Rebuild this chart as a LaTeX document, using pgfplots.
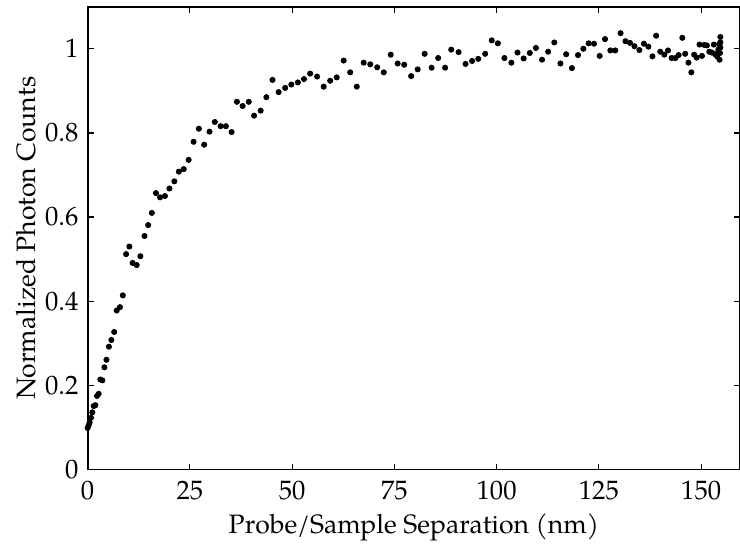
\documentclass[border=0pt]{standalone}
\usepackage{fontspec}
\setmainfont{TeX Gyre Pagella}
\usepackage{pgfplots}
\pgfplotsset{compat=1.18}
\begin{document}
\fontsize{13.3}{16}\selectfont
\begin{tikzpicture}
\begin{axis}[
  scale only axis, width=326.4pt, height=231.6pt,
  xmin=0, xmax=159.5, ymin=0, ymax=1.1,
  xtick={0,25,50,75,100,125,150},
  ytick={0,0.2,0.4,0.6,0.8,1},
  yticklabels={0,0.2,0.4,0.6,0.8,1},
  /pgf/number format/assume math mode=true,
  tick align=inside, major tick length=3pt,
  axis line style={line width=0.9pt},
  every tick/.style={black, line width=0.6pt},
  xlabel={Probe/Sample Separation (nm)},
  ylabel={Normalized Photon Counts},
  xlabel style={yshift=2pt},
  ylabel style={yshift=-4.5pt},
  xticklabel style={yshift=-1pt},
]
\addplot[only marks, mark=*, mark size=1.3pt, black] coordinates {
(0,0.099)(0.25,0.105)(0.49,0.112)(0.82,0.123)(1.15,0.136)(1.48,0.151)(1.89,0.153)
(2.3,0.175)(2.7,0.180)(3.1,0.214)(3.6,0.212)(4.1,0.243)(4.6,0.261)(5.2,0.292)
(5.8,0.308)(6.5,0.327)(7.1,0.378)(7.9,0.386)(8.6,0.414)(9.4,0.512)(10.2,0.530)
(11.0,0.491)(12.0,0.486)(12.9,0.507)(13.9,0.555)(14.8,0.581)(15.7,0.610)(16.7,0.657)
(17.7,0.647)(18.9,0.650)(20.0,0.668)(21.2,0.685)(22.3,0.708)(23.5,0.714)(24.7,0.736)
(25.9,0.779)(27.2,0.810)(28.5,0.772)(29.8,0.803)(31.1,0.826)(32.5,0.816)(33.8,0.816)
(35.2,0.802)(36.5,0.874)(37.9,0.864)(39.4,0.874)(40.7,0.841)(42.3,0.853)(43.7,0.885)
(45.2,0.926)(46.7,0.897)(48.3,0.907)(49.8,0.915)(51.4,0.920)(52.9,0.928)(54.4,0.941)
(56.1,0.934)(57.7,0.910)(59.3,0.924)(60.9,0.932)(62.6,0.972)(64.2,0.944)(65.8,0.910)
(67.5,0.967)(69.1,0.963)(70.8,0.956)(72.4,0.944)(74.1,0.986)(75.8,0.965)(77.4,0.962)
(79.1,0.935)(80.7,0.951)(82.4,0.988)(84.1,0.955)(85.7,0.978)(87.4,0.955)(88.9,0.998)
(90.7,0.992)(92.4,0.964)(94.0,0.971)(95.5,0.976)(97.2,0.988)(98.8,1.020)(100.3,1.013)
(101.9,0.978)(103.6,0.967)(105.1,0.991)(106.6,0.977)(108.1,0.990)(109.6,1.002)(111.1,0.974)
(112.6,0.993)(114.1,1.015)(115.6,0.965)(117.0,0.987)(118.4,0.954)(119.9,0.985)(121.2,1.000)
(122.5,1.013)(123.8,1.012)(125.2,0.983)(126.5,1.023)(127.8,0.996)(129.0,0.996)(130.3,1.037)
(131.5,1.018)(132.6,1.014)(133.7,1.006)(134.9,0.997)(136.0,1.012)(137.1,1.005)(138.1,0.982)
(139.0,1.031)(140.0,0.993)(141.0,0.986)(141.9,0.996)(142.8,0.978)(143.7,0.978)(144.5,0.985)
(145.4,1.026)(146.1,0.988)(146.9,0.967)(147.6,0.944)(148.3,0.986)(148.9,0.979)(149.6,1.010)
(150.2,0.983)(150.8,1.009)(151.4,1.008)(152.0,0.993)(152.6,0.991)(153.1,1.010)(153.4,0.987)
(153.9,0.982)(154.2,0.998)(154.4,1.011)(154.5,0.974)(154.7,1.028)(154.7,1.015)(154.7,1.003)
(154.6,0.990)
};
\end{axis}
\pgfresetboundingbox
\path[use as bounding box] ([shift={(-43.85pt,-38pt)}]current axis.south west) rectangle ([shift={(0pt,3.35pt)}]current axis.north east);
\end{tikzpicture}
\end{document}
